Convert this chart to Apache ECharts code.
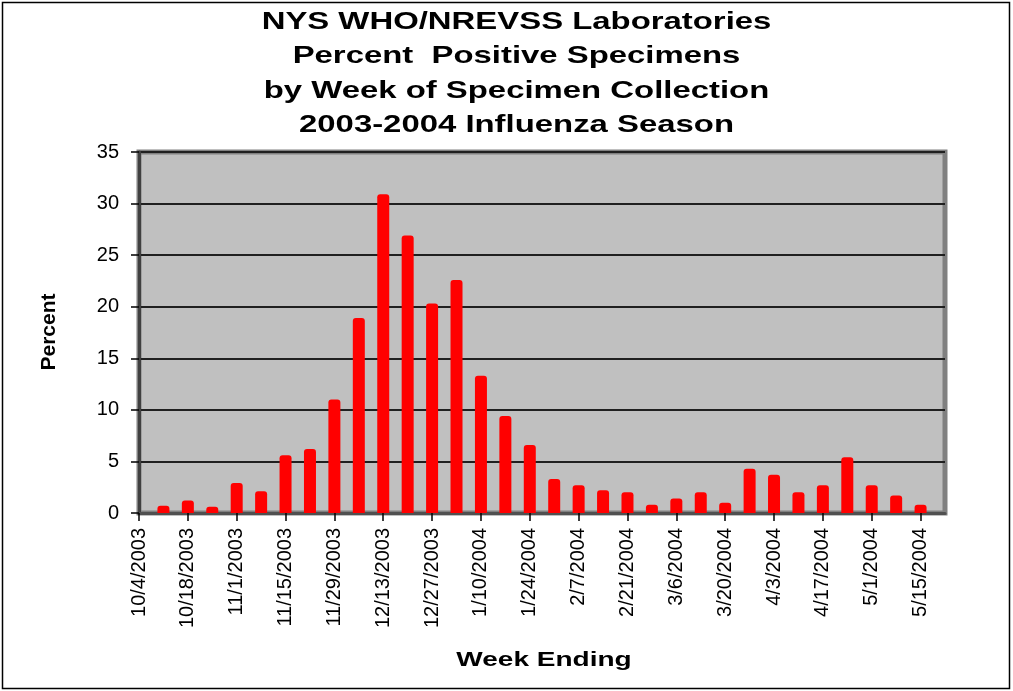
<!DOCTYPE html>
<html>
<head>
<meta charset="utf-8">
<script src="https://cdn.jsdelivr.net/npm/echarts@6.0.0/dist/echarts.min.js"></script>
<style>
  html, body { margin: 0; padding: 0; background: #fff; }
  #chart { width: 1013px; height: 691px; }
</style>
</head>
<body>
<div id="chart"></div>
<script>
const titleLines = [
  'NYS WHO/NREVSS Laboratories',
  'Percent  Positive Specimens',
  'by Week of Specimen Collection',
  '2003-2004 Influenza Season'
]
const weekEnding = [
  '10/4/2003', '10/11/2003', '10/18/2003', '10/25/2003', '11/1/2003', '11/8/2003',
  '11/15/2003', '11/22/2003', '11/29/2003', '12/6/2003', '12/13/2003', '12/20/2003',
  '12/27/2003', '1/3/2004', '1/10/2004', '1/17/2004', '1/24/2004', '1/31/2004',
  '2/7/2004', '2/14/2004', '2/21/2004', '2/28/2004', '3/6/2004', '3/13/2004',
  '3/20/2004', '3/27/2004', '4/3/2004', '4/10/2004', '4/17/2004', '4/24/2004',
  '5/1/2004', '5/8/2004', '5/15/2004', '5/22/2004'
]
// percent positive, one per week (no data for first and last week)
const percentPositive = [
  null, 0.7, 1.2, 0.6, 2.9, 2.1,
  5.6, 6.2, 11.0, 18.9, 30.9, 26.9,
  20.3, 22.6, 13.3, 9.4, 6.6, 3.3,
  2.7, 2.2, 2.0, 0.8, 1.4, 2.0,
  1.0, 4.3, 3.7, 2.0, 2.7, 5.4,
  2.7, 1.7, 0.8, null
]
const yTicks = [0, 5, 10, 15, 20, 25, 30, 35]

const chart = echarts.init(document.getElementById('chart'), null, { renderer: 'canvas' })

const option = {
  animation: false,
  backgroundColor: '#fff',
  textStyle: { fontFamily: 'Liberation Sans, Arial, sans-serif' },
  graphic: [
    {
      type: 'rect',
      silent: true,
      shape: { x: 2.5, y: 2.5, width: 1007, height: 686 },
      style: { fill: null, stroke: '#000', lineWidth: 1.5 }
    },
    {
      type: 'text',
      x: 516.5,
      y: 5,
      scaleX: 1.37,
      style: {
        text: titleLines.join('\n'),
        font: 'bold 24px "Liberation Sans", Arial, sans-serif',
        lineHeight: 34.5,
        textAlign: 'center',
        textVerticalAlign: 'top',
        fill: '#000'
      }
    },
    {
      type: 'text',
      x: 544,
      y: 660,
      scaleX: 1.4,
      style: {
        text: 'Week Ending',
        font: 'bold 20px "Liberation Sans", Arial, sans-serif',
        textAlign: 'center',
        textVerticalAlign: 'middle',
        fill: '#000'
      }
    },
    {
      type: 'text',
      x: 49.5,
      y: 332,
      rotation: Math.PI / 2,
      style: {
        text: 'Percent',
        font: 'bold 21px "Liberation Sans", Arial, sans-serif',
        textAlign: 'center',
        textVerticalAlign: 'middle',
        fill: '#000'
      }
    }
  ],
  grid: {
    left: 139,
    top: 152,
    width: 806,
    height: 361,
    show: true,
    backgroundColor: '#C0C0C0',
    borderColor: '#808080',
    borderWidth: 5
  },
  xAxis: {
    type: 'category',
    data: weekEnding,
    boundaryGap: false,
    axisLine: { show: true, lineStyle: { color: '#505050', width: 3 } },
    axisTick: { show: true, interval: 1, length: 8, lineStyle: { color: '#000', width: 1.5 } },
    axisLabel: {
      interval: 1,
      rotate: 90,
      margin: 15,
      fontSize: 20,
      color: '#000',
      fontFamily: 'Liberation Sans'
    },
    splitLine: { show: false }
  },
  yAxis: {
    type: 'value',
    min: yTicks[0],
    max: yTicks[yTicks.length - 1],
    interval: 5,
    axisLine: { show: true, lineStyle: { color: '#404040', width: 3 } },
    axisTick: { show: true, length: 8, lineStyle: { color: '#000', width: 1.5 } },
    axisLabel: { margin: 20, fontSize: 20, color: '#000', fontFamily: 'Liberation Sans' },
    splitLine: { show: true, lineStyle: { color: '#202020', width: 2 } }
  },
  series: [
    {
      type: 'bar',
      data: percentPositive,
      barWidth: 12,
      itemStyle: { color: '#FF0000', borderRadius: [3, 3, 0, 0] }
    }
  ]
}

chart.setOption(option)
</script>
</body>
</html>
